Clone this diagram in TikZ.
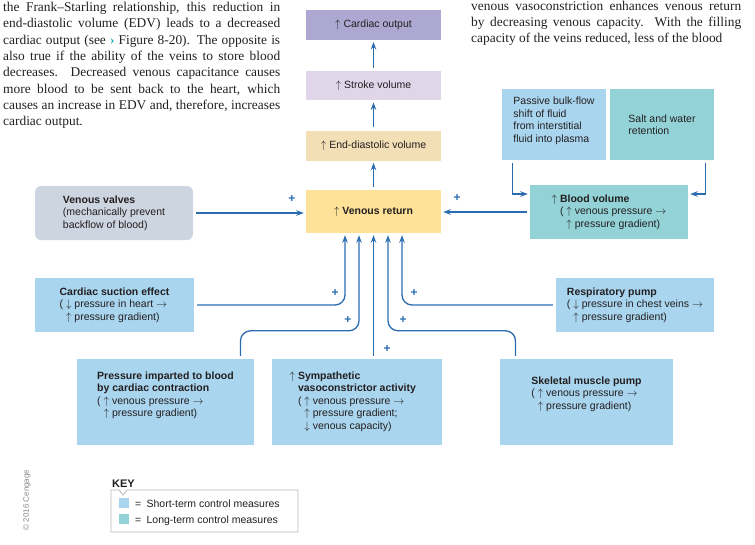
\documentclass[tikz,border=0pt]{standalone}
\usepackage{fontspec}
\setmainfont{Liberation Serif}
\setsansfont{Liberation Sans}
\usepackage{tikz}
\usetikzlibrary{arrows.meta, positioning}

\definecolor{copurple}{HTML}{ADA8D2}
\definecolor{svlilac}{HTML}{E1D5EA}
\definecolor{edvbeige}{HTML}{F3DFB6}
\definecolor{vryellow}{HTML}{FDE297}
\definecolor{valvegrey}{HTML}{CDD5E1}
\definecolor{shortblue}{HTML}{A9D5EF}
\definecolor{longteal}{HTML}{93D3D8}
\definecolor{linkblue}{HTML}{2B6CB0}
\definecolor{inkdark}{HTML}{231F20}
\definecolor{keygrey}{HTML}{B8B8B8}
\definecolor{copygrey}{HTML}{8A8A8A}
\definecolor{seeteal}{HTML}{1BA8B8}

\newcommand{\upar}{\ensuremath{\uparrow}}
\newcommand{\dnar}{\ensuremath{\downarrow}}
\newcommand{\rtar}{\ensuremath{\rightarrow}}

\begin{document}
\begin{tikzpicture}[x=1pt, y=-1pt,
		ctrlbox/.style={
			rectangle,
			text=inkdark,
			align=left,
			inner sep=3pt,
			font=\sffamily\fontsize{10.5}{12.5}\selectfont
		},
		chainbox/.style={
			ctrlbox,
			minimum width=135pt,
			minimum height=30pt
		},
		shortterm/.style={ctrlbox, fill=shortblue},
		longterm/.style={ctrlbox, fill=longteal},
		link/.style={
			draw=linkblue,
			line width=1.3pt,
			-{Stealth[length=7.5pt, width=5.5pt]},
			shorten >=2pt,
			shorten <=3pt
		},
		elbow/.style={link, rounded corners=10pt},
		plus/.style={
			text=linkblue,
			inner sep=0pt,
			font=\sffamily\bfseries\fontsize{12}{12}\selectfont
		},
		paratext/.style={
			anchor=base west,
			inner sep=0pt,
			align=justify,
			text=inkdark,
			font=\fontsize{13.4}{16.3}\selectfont
		},
		keytext/.style={
			anchor=base west,
			inner sep=0pt,
			text=inkdark,
			font=\sffamily\fontsize{10.5}{12}\selectfont
		}
	]
	
	\useasboundingbox (0,0) rectangle (755,544);
	
	% running text of the page
	\node[paratext, text width=277pt] (leftpara) at (3,11.5) {the Frank--Starling relationship, this reduction in\linebreak
		end-diastolic volume (EDV) leads to a decreased\linebreak
		cardiac output (see {\color{seeteal}\textbf{›}} Figure 8-20). The opposite is\linebreak
		also true if the ability of the veins to store blood\linebreak
		decreases. Decreased venous capacitance causes\linebreak
		more blood to be sent back to the heart, which\linebreak
		causes an increase in EDV and, therefore, increases\linebreak
		cardiac output.};
	\node[paratext, text width=270pt] (rightpara) at (471,10) {\parfillskip=0pt venous vasoconstriction enhances venous return\linebreak
		by decreasing venous capacity. With the filling\linebreak
		capacity of the veins reduced, less of the blood};
	
	% main chain
	\node[chainbox, fill=vryellow, minimum height=43pt] (vr) at (373.5,211.5) {\textbf{\upar\ Venous return}};
	\node[chainbox, fill=edvbeige, above=29pt of vr] (edv) {\upar\ End-diastolic volume};
	\node[chainbox, fill=svlilac, minimum height=29pt, above=30pt of edv] (sv) {\upar\ Stroke volume};
	\node[chainbox, fill=copurple, above=31pt of sv] (co) {\upar\ Cardiac output};
	
	% control measures
	\node[ctrlbox, fill=valvegrey, rounded corners=6pt, minimum width=158pt, minimum height=54pt] (valves) at (114,213) {\textbf{Venous valves}\\(mechanically prevent\\backflow of blood)};
	\node[shortterm, minimum width=104pt, minimum height=71pt, text depth=10pt] (bulkflow) at (554,124.5) {Passive bulk-flow\\shift of fluid\\from interstitial\\fluid into plasma};
	\node[longterm, minimum width=104pt, minimum height=71pt] (salt) at (662,124.5) {Salt and water\\retention};
	\node[longterm, minimum width=158pt, minimum height=54pt] (blood) at (609,212) {\upar\ \textbf{Blood volume}\\\phantom{\upar\ }( \upar\ venous pressure \rtar\\\phantom{\upar\ ( }\upar\ pressure gradient)};
	\node[shortterm, minimum width=159pt, minimum height=54pt] (suction) at (114.5,305) {\textbf{Cardiac suction effect}\\( \dnar\ pressure in heart \rtar\\\phantom{( }\upar\ pressure gradient)};
	\node[shortterm, minimum width=158pt, minimum height=54pt] (resp) at (635,305) {\textbf{Respiratory pump}\\( \dnar\ pressure in chest veins \rtar\\\phantom{( }\upar\ pressure gradient)};
	\node[shortterm, minimum width=177pt, minimum height=86pt, text depth=16pt] (pressure) at (165.5,402) {\textbf{Pressure imparted to blood}\\\textbf{by cardiac contraction}\\( \upar\ venous pressure \rtar\\\phantom{( }\upar\ pressure gradient)};
	\node[shortterm, minimum width=170pt, minimum height=86pt, text depth=3pt] (symp) at (357,402) {\llap{\upar\ }\textbf{Sympathetic}\\\textbf{vasoconstrictor activity}\\( \upar\ venous pressure \rtar\\\phantom{( }\upar\ pressure gradient;\\\phantom{( }\dnar\ venous capacity)};
	\node[shortterm, minimum width=173pt, minimum height=86pt, text depth=18pt] (skeletal) at (586.5,402) {\textbf{Skeletal muscle pump}\\( \upar\ venous pressure \rtar\\\phantom{( }\upar\ pressure gradient)};
	
	% connectors
	\draw[link] (vr) -- (edv);
	\draw[link] (edv) -- (sv);
	\draw[link] (sv) -- (co);
	\draw[link] (valves.east) -- (valves.east -| vr.west);
	\draw[link] (blood.west) -- (blood.west -| vr.east);
	\draw[link] ([xshift=11pt]bulkflow.south west) |- ([yshift=18pt]blood.west);
	\draw[link] ([xshift=-9pt]salt.south east) |- ([yshift=18pt]blood.east);
	\draw[elbow] (suction.east) -| ([xshift=-28.5pt]vr.south);
	\draw[elbow] ([xshift=75pt]pressure.north) -- ++(0,-28) -| ([xshift=-14.5pt]vr.south);
	\draw[link] (symp.north -| vr.south) -- (vr.south);
	\draw[elbow] ([xshift=-71pt]skeletal.north) -- ++(0,-28) -| ([xshift=14.5pt]vr.south);
	\draw[elbow] (resp.west) -| ([xshift=28.5pt]vr.south);
	
	\node[plus] (pvalves) at (292,199) {+};
	\node[plus] (pblood) at (457,198) {+};
	\node[plus] (psuction) at (335,293) {+};
	\node[plus] (ppressure) at (348,320) {+};
	\node[plus] (psymp) at (387,349) {+};
	\node[plus] (pskeletal) at (403,320) {+};
	\node[plus] (presp) at (414,293) {+};
	
	% key
	\node[keytext, font=\sffamily\bfseries\fontsize{11}{12}\selectfont] (keytitle) at (112,487) {KEY};
	\draw[keygrey, line width=0.8pt] (111,490) -- (119,490) -- (123,495) -- (127,490) -- (298,490) -- (298,532) -- (111,532) -- cycle;
	\node[fill=shortblue, minimum width=10pt, minimum height=10pt, inner sep=0pt] (swshort) at (124,503) {};
	\node[fill=longteal, minimum width=10pt, minimum height=10pt, inner sep=0pt] (swlong) at (124,519) {};
	\node[keytext] (keyshort) at (135,507) {=\enspace Short-term control measures};
	\node[keytext] (keylong) at (135,523) {=\enspace Long-term control measures};
	
	\node[rotate=90, text=copygrey, font=\sffamily\fontsize{8}{8}\selectfont] (copyright) at (27,500) {© 2016 Cengage};
	
\end{tikzpicture}
\end{document}
